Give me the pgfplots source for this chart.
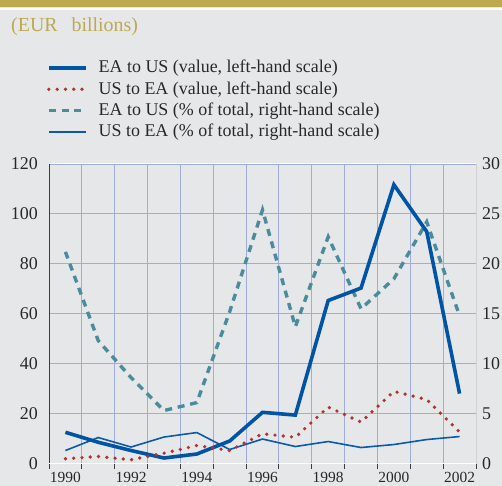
\documentclass[border=0pt]{standalone}
\usepackage{pgfplots}
\usepackage{pgfplotstable}
\pgfplotsset{compat=1.18}
\usepackage{fontspec}
\setmainfont{Liberation Serif}
\definecolor{bg}{RGB}{230,231,233}
\definecolor{gold}{RGB}{191,169,80}
\definecolor{thickblue}{RGB}{0,84,164}
\definecolor{thinblue}{RGB}{10,90,172}
\definecolor{dotred}{RGB}{176,52,46}
\definecolor{tealc}{RGB}{74,140,156}
\definecolor{gridc}{RGB}{160,172,222}
\definecolor{axc}{RGB}{60,60,60}
\definecolor{txt}{RGB}{40,40,40}

% left-hand scale (EUR billions)
\pgfplotstableread{
year eaus usea
1990 12.5 1.9
1991 8.5 2.8
1992 5.2 1.5
1993 2.2 4.1
1994 3.8 7.2
1995 9.0 5.2
1996 20.5 11.9
1997 19.4 10.5
1998 65.3 22.6
1999 70.3 16.6
2000 111.7 28.9
2001 92.9 25.6
2002 28.0 12.6
}\leftdata
% right-hand scale (% of total)
\pgfplotstableread{
year eaus usea
1990 21.2 1.3
1991 12.3 2.6
1992 8.6 1.65
1993 5.3 2.65
1994 6.1 3.1
1995 15.2 1.4
1996 25.4 2.45
1997 13.7 1.7
1998 22.7 2.2
1999 15.5 1.6
2000 18.5 1.9
2001 24.2 2.4
2002 14.8 2.7
}\rightdata

\tikzset{
  thickst/.style={thickblue, line width=3.6bp, line cap=butt},
  dotst/.style={dotred, line width=3.7bp, line cap=round, dash pattern=on 0bp off 8.3bp},
  dashst/.style={tealc, line width=3.4bp, line cap=butt, dash pattern=on 7bp off 5.8bp},
  thinst/.style={thinblue, line width=1.6bp},
}
\newcommand{\lfont}{\fontsize{18}{21.5}\selectfont}
\newcommand{\xfont}{\fontsize{15.5}{18}\selectfont}

\begin{document}
\begin{tikzpicture}
\useasboundingbox (0,0) rectangle (502bp,486bp);
\clip (0,0) rectangle (502bp,486bp);
\fill[bg] (0,0) rectangle (502bp,486bp);
\fill[gold] (0,478.6bp) rectangle (502bp,486bp);
\fill[white] (0,476.2bp) rectangle (502bp,478.2bp);
\node[anchor=west, inner sep=0pt, text=gold, font=\fontsize{20}{24}\selectfont] at (11bp,459bp) {(EUR\hspace{0.45em} billions)};

% right-hand scale axis with the grid
\begin{axis}[
  at={(49bp,22.5bp)}, anchor=south west,
  scale only axis, width=427bp, height=299.5bp,
  xmin=1989.5, xmax=2002.5, ymin=0, ymax=30,
  axis line style={draw=none},
  xtick={1990}, xticklabels={},
  minor xtick={1990.5,1991.5,...,2001.5},
  xminorgrids=true, ymajorgrids=true,
  grid style={gridc, line width=0.9bp},
  minor grid style={gridc, line width=0.9bp},
  ytick={0,5,...,30},
  ytick pos=right,
  major tick length=0pt, minor tick length=0pt,
  /pgf/number format/assume math mode=true,
  yticklabel style={font=\lfont, text=txt, anchor=west, inner sep=0pt, xshift=6bp},
]
\addplot[dashst] table[x=year, y=eaus] {\rightdata};
\addplot[thinst] table[x=year, y=usea] {\rightdata};
\end{axis}

% left-hand scale axis
\begin{axis}[
  at={(49bp,22.5bp)}, anchor=south west,
  scale only axis, width=427bp, height=299.5bp,
  xmin=1989.5, xmax=2002.5, ymin=0, ymax=120,
  axis line style={draw=none},
  xtick={1990,1992,...,2002},
  minor xtick={1989.5,1990.5,...,2002.5},
  xtick pos=bottom, ytick pos=left,
  tick align=outside,
  major tick length=0pt, minor tick length=5bp,
  minor tick style={axc, line width=0.9bp},
  ytick={0,20,...,120},
  /pgf/number format/1000 sep={},
  /pgf/number format/assume math mode=true,
  yticklabel style={font=\lfont, text=txt, anchor=east, inner sep=0pt, xshift=-11bp},
  xticklabel style={font=\xfont, text=txt, anchor=north, inner sep=0pt, yshift=-8.5bp},
  legend image code/.code={\draw[#1] (0bp,0bp) -- (37bp,0bp);},
  legend cell align=left,
  legend style={at={(axis description cs:0,1)}, anchor=north west,
    xshift=-2bp, yshift=103bp, draw=none, fill=none,
    inner sep=0pt, outer sep=0pt, row sep=7.3bp,
    font=\lfont, text=txt,
    nodes={inner sep=0pt, text height=12bp, text depth=2bp},
    /tikz/every odd column/.append style={column sep=11bp}},
]
\draw[white, line width=1.6bp] (rel axis cs:0,1) -- (rel axis cs:1,1);
\draw[gridc, line width=0.9bp] (rel axis cs:0,1) -- (rel axis cs:1,1);
\draw[white, line width=1.6bp] ([xshift=-2bp]rel axis cs:0,0) -- ([xshift=-2bp]rel axis cs:0,1);
\draw[axc, line width=0.9bp] (rel axis cs:0,0) -- (rel axis cs:0,1);
\draw[axc, line width=0.9bp] (rel axis cs:1,0) -- (rel axis cs:1,1);
\draw[white, line width=1.6bp] (rel axis cs:0,0) -- (rel axis cs:1,0);
\draw[axc, line width=0.9bp] ([yshift=-1.8bp]rel axis cs:0,0) -- ([yshift=-1.8bp]rel axis cs:1,0);
\addplot[thickst] table[x=year, y=eaus] {\leftdata};
\addlegendentry{EA to US (value, left-hand scale)}
\addplot[dotst] table[x=year, y=usea] {\leftdata};
\addlegendentry{US to EA (value, left-hand scale)}
\addlegendimage{dashst}
\addlegendentry{EA to US (\% of total, right-hand scale)}
\addlegendimage{thinst}
\addlegendentry{US to EA (\% of total, right-hand scale)}
\end{axis}
\end{tikzpicture}
\end{document}
